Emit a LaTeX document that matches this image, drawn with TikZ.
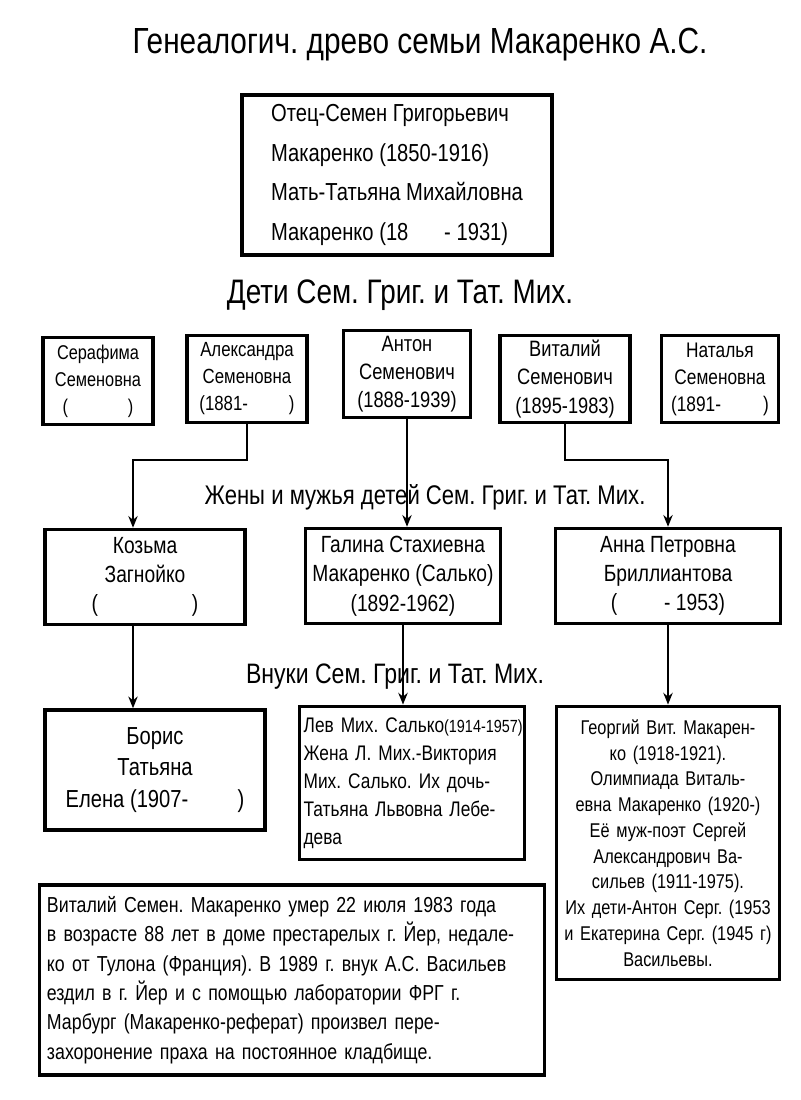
\documentclass[tikz,border=0pt]{standalone}
\usepackage{fontspec}
\setmainfont[FakeStretch=0.82]{Liberation Sans}
\usetikzlibrary{positioning,calc,arrows.meta}
\frenchspacing

\begin{document}
\begin{tikzpicture}[
    x=0.03cm, y=-0.03cm,
    box/.style={rectangle, draw, line width=3pt, align=center, inner sep=2pt},
    head/.style={font=\fontsize{26}{28}\selectfont},
    arrow/.style={-{Stealth[length=10pt,width=8pt]}, line width=1.5pt}
]
    \useasboundingbox (0,0) rectangle (800,1100);

    \node[head, font=\fontsize{31}{33}\selectfont] (title) at (420,45) {Генеалогич. древо семьи Макаренко А.С.};

    \node[box, minimum width=9.3cm, minimum height=4.8cm, align=left,
          font=\fontsize{21}{34}\selectfont] (parents) at (397,175)
        {Отец-Семен Григорьевич\\Макаренко (1850-1916)\\Мать-Татьяна Михайловна\\Макаренко (18\quad\ \ - 1931)};

    \node[head, font=\fontsize{29}{31}\selectfont] (children) at (400,295) {Дети Сем. Григ. и Тат. Мих.};

    % children
    \tikzset{kid/.style={box, minimum height=2.6cm, font=\fontsize{19}{24}\selectfont}}
    \node[kid, minimum width=3.3cm, font=\fontsize{17}{23}\selectfont] (serafima) at (98,381) {Серафима\\Семеновна\\(\qquad\quad)};
    \node[kid, minimum width=3.6cm, font=\fontsize{17.5}{23}\selectfont] (alexandra) at (247,379) {Александра\\Семеновна\\(1881-\qquad)};
    \node[kid, minimum width=3.8cm, minimum height=2.6cm] (anton) at (407,374) {Антон\\Семенович\\(1888-1939)};
    \node[kid, minimum width=3.9cm] (vitaly) at (565,379) {Виталий\\Семенович\\(1895-1983)};
    \node[kid, minimum width=3.5cm, font=\fontsize{18}{23}\selectfont] (natalya) at (720,379) {Наталья\\Семеновна\\(1891-\qquad)};

    \node[head, font=\fontsize{23}{25}\selectfont] (spouses) at (425,497) {Жены и мужья детей Сем. Григ. и Тат. Мих.};

    % spouses
    \tikzset{mate/.style={box, minimum height=2.85cm, font=\fontsize{20}{25}\selectfont}}
    \node[mate, minimum width=6cm] (kozma) at (145,577) {Козьма\\Загнойко\\(\qquad\qquad)};
    \node[mate, minimum width=5.85cm] (galina) at (403,576) {Галина Стахиевна\\Макаренко (Салько)\\(1892-1962)};
    \node[mate, minimum width=6.75cm] (anna) at (668,576) {Анна Петровна\\Бриллиантова\\(\qquad - 1953)};

    \node[head, font=\fontsize{24}{26}\selectfont] (grandkids) at (395,677) {Внуки Сем. Григ. и Тат. Мих.};

    % grandchildren
    \node[box, minimum width=6.6cm, minimum height=3.6cm, font=\fontsize{21}{27}\selectfont] (boris) at (155,770)
        {Борис\\Татьяна\\Елена (1907-\qquad)};
    \node[box, minimum width=6.75cm, minimum height=4.6cm, text width=6.5cm, align=left,
          font=\fontsize{18}{24}\selectfont] (lev) at (412,783)
        {\mbox{Лев Мих. Салько{\fontsize{15}{24}\selectfont(1914-1957)}}\\Жена Л. Мих.-Виктория\\Мих. Салько. Их дочь-\\Татьяна Львовна Лебе-\\дева};
    \node[box, minimum width=6.7cm, minimum height=8.2cm, text width=6.5cm,
          font=\fontsize{17}{22}\selectfont] (georgy) at (668,843)
        {Георгий Вит. Макарен-\\ко (1918-1921).\\Олимпиада Виталь-\\евна Макаренко (1920-)\\Её муж-поэт Сергей\\Александрович Ва-\\сильев (1911-1975).\\Их дети-Антон Серг. (1953\\и Екатерина Серг. (1945 г)\\Васильевы.};

    \node[box, minimum width=15.15cm, minimum height=5.7cm, text width=14.7cm, align=left,
          font=\fontsize{18.5}{25}\selectfont] (note) at (292,980)
        {Виталий Семен. Макаренко умер 22 июля 1983 года\\
         в возрасте 88 лет в доме престарелых г. Йер, недале-\\
         ко от Тулона (Франция). В 1989 г. внук А.С. Васильев\\
         ездил в г. Йер и с помощью лаборатории ФРГ г.\\
         Марбург (Макаренко-реферат) произвел пере-\\
         захоронение праха на постоянное кладбище.};

    % connectors
    \draw[arrow] (alexandra.south) |- (133,460) -- (kozma.north -| 133,0);
    \draw[arrow] (anton.south) -- (galina.north -| anton.south);
    \draw[arrow] (vitaly.south) |- (668,460) -- (anna.north);
    \draw[arrow] (kozma.south -| 133,0) -- (boris.north -| 133,0);
    \draw[arrow] (galina.south) -- (lev.north -| galina.south);
    \draw[arrow] (anna.south) -- (georgy.north);
\end{tikzpicture}
\end{document}
